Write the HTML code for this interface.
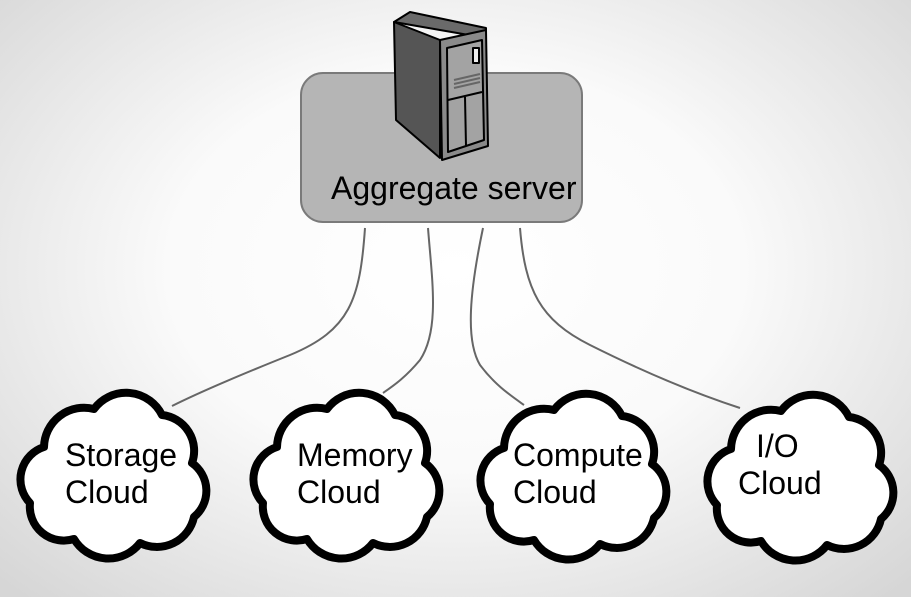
<!DOCTYPE html>
<html><head><meta charset="utf-8"><style>
html,body{margin:0;padding:0;width:911px;height:597px;overflow:hidden}
body{background:radial-gradient(ellipse 70% 75% at 50% 45%,#ffffff 0%,#fafafa 45%,#d6d6d6 100%)}
svg{position:absolute;left:0;top:0}
text{font-family:"Liberation Sans",Arial,sans-serif;font-size:32px;fill:#000}
</style></head><body>
<svg width="911" height="597" viewBox="0 0 911 597">
<defs>
<path id="cl" d="M32,62 A40,40 0 0 1 82,24 A40,40 0 0 1 150,30 A36,36 0 0 1 180,78 A34,34 0 0 1 182,132 A38,38 0 0 1 128,158 A40,40 0 0 1 62,154 A34,34 0 0 1 18,118 A34,34 0 0 1 32,62 Z" fill="#fff" stroke="#000" stroke-width="8" stroke-linejoin="round"/>
</defs>
<rect x="301" y="73" width="281" height="149" rx="22" fill="#b5b5b5" stroke="#7a7a7a" stroke-width="2"/>
<g fill="none" stroke="#666" stroke-width="2">
<path d="M365,228 C360,300 350,330 290,355 C240,375 200,392 172,406"/>
<path d="M428,228 C432,280 440,330 420,360 C405,378 393,386 383,393"/>
<path d="M483,228 C470,290 465,340 480,365 C495,385 510,395 524,405"/>
<path d="M520,228 C525,290 540,320 590,345 C650,375 700,395 740,408"/>
</g>
<!-- server -->
<g stroke="#000" stroke-width="2" stroke-linejoin="round">
<polygon points="394,22 410,12 486,28 486,38" fill="#6a6a6a"/>
<polygon points="394,22 440,40 440,158 396,120" fill="#555"/>
<polygon points="440,40 486,30 488,146 442,160" fill="#8a8a8a"/>
<polygon points="447,48 482,40 484,140 448,152" fill="#a3a3a3"/>
<rect x="473" y="48" width="6" height="15" fill="#eee"/>
<line x1="448" y1="100" x2="482" y2="92"/>
<line x1="454" y1="80" x2="480" y2="74" stroke="#666"/>
<line x1="454" y1="84" x2="480" y2="78" stroke="#666"/>
<line x1="454" y1="88" x2="480" y2="82" stroke="#666"/>
<line x1="465" y1="97" x2="466" y2="146"/>
</g>
<text x="331" y="199">Aggregate server</text>
<use href="#cl" x="12" y="385"/>
<use href="#cl" x="245" y="385"/>
<use href="#cl" x="472" y="386"/>
<use href="#cl" x="699" y="387"/>
<text x="65" y="466">Storage</text><text x="65" y="503">Cloud</text>
<text x="297" y="466">Memory</text><text x="297" y="503">Cloud</text>
<text x="513" y="466">Compute</text><text x="513" y="503">Cloud</text>
<text x="756" y="457">I/O</text><text x="738" y="494">Cloud</text>
</svg>
</body></html>
